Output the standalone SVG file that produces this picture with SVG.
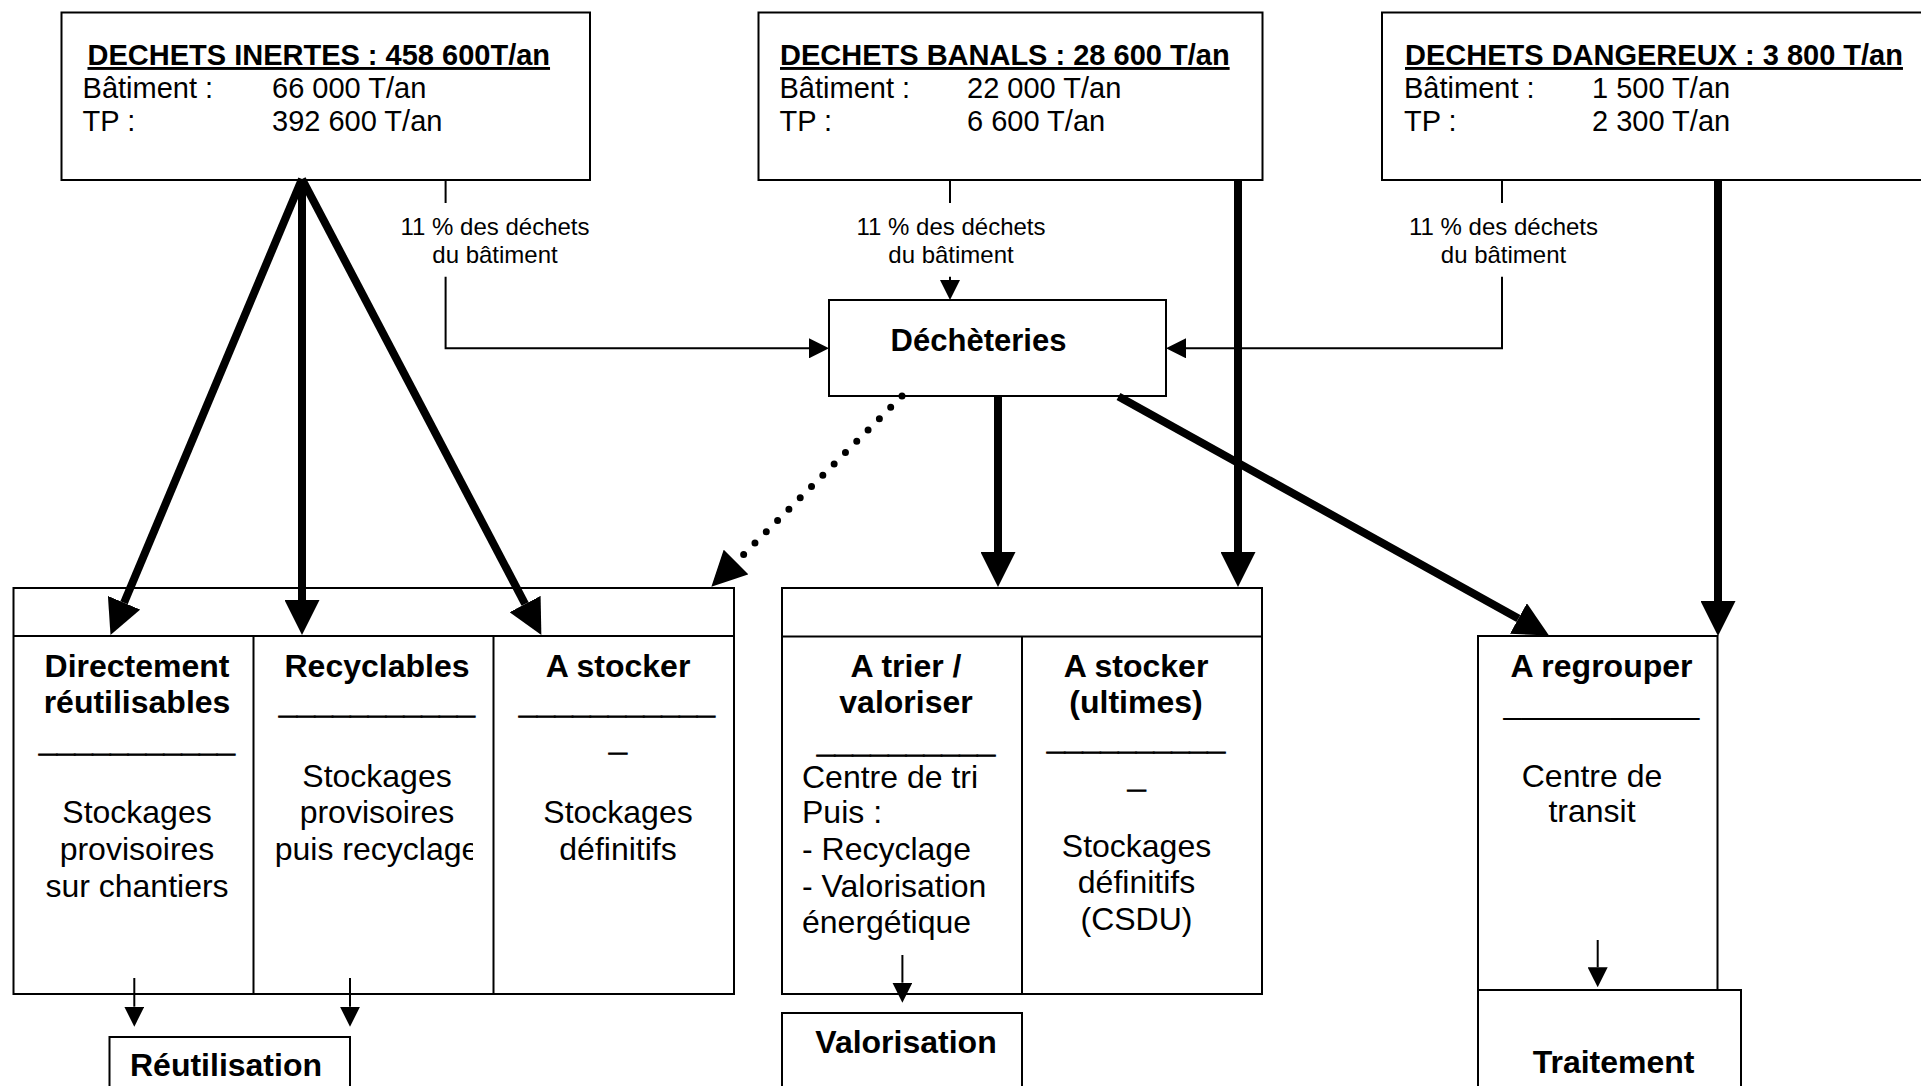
<svg xmlns="http://www.w3.org/2000/svg" width="1921" height="1086" viewBox="0 0 1921 1086">
<style>
text{font-family:"Liberation Sans",Arial,sans-serif;fill:#000}
.box{fill:#fff;stroke:#000;stroke-width:2}
.div{stroke:#000;stroke-width:2;fill:none}
.t{font-size:29px;font-weight:bold;text-decoration:underline}
.b{font-size:29px}
.lbl{font-size:24px;text-anchor:middle}
.h{font-size:32px;font-weight:bold;text-anchor:middle}
.u{stroke:#000;stroke-width:1.2}
.r{font-size:32px;text-anchor:middle}
.l{font-size:32px}
.thick{stroke:#000;stroke-width:8;fill:none;marker-end:url(#big)}
.thin{stroke:#000;stroke-width:2;fill:none;marker-end:url(#small)}
.dot{stroke:#000;stroke-width:7;stroke-linecap:round;stroke-dasharray:0 16;fill:none;marker-end:url(#big)}
</style>
<defs>
<marker id="big" markerUnits="userSpaceOnUse" markerWidth="35" markerHeight="35" viewBox="0 0 35 35" refX="0" refY="17.5" orient="auto"><path d="M0,0 L35,17.5 L0,35 z" fill="#000"/></marker>
<marker id="small" markerUnits="userSpaceOnUse" markerWidth="20" markerHeight="20" viewBox="0 0 20 20" refX="0" refY="10" orient="auto"><path d="M0,0 L20,10 L0,20 z" fill="#000"/></marker>
<clipPath id="c2"><rect x="254" y="636" width="219" height="356"/></clipPath>
</defs>

<g id="inertes">
<rect class="box" x="61.5" y="12.5" width="528.5" height="167.5"/>
<text class="t" x="87.5" y="65">DECHETS INERTES : 458 600T/an</text>
<text class="b" x="82.6" y="98.3">Bâtiment :</text>
<text class="b" x="272" y="98.3">66 000 T/an</text>
<text class="b" x="82.6" y="131">TP :</text>
<text class="b" x="272" y="131">392 600 T/an</text>
</g>

<g id="banals">
<rect class="box" x="758.5" y="12.5" width="504" height="167.5"/>
<text class="t" x="780" y="65">DECHETS BANALS : 28 600 T/an</text>
<text class="b" x="779.5" y="98.3">Bâtiment :</text>
<text class="b" x="967" y="98.3">22 000 T/an</text>
<text class="b" x="779.5" y="131">TP :</text>
<text class="b" x="967" y="131">6 600 T/an</text>
</g>

<g id="dangereux">
<rect class="box" x="1382" y="12.5" width="545" height="167.5"/>
<text class="t" x="1405" y="65">DECHETS DANGEREUX : 3 800 T/an</text>
<text class="b" x="1404" y="98.3">Bâtiment :</text>
<text class="b" x="1592" y="98.3">1 500 T/an</text>
<text class="b" x="1404" y="131">TP :</text>
<text class="b" x="1592" y="131">2 300 T/an</text>
</g>

<g id="decheteries">
<rect class="box" x="829" y="300" width="337" height="96"/>
<text x="978.5" y="351" style="font-size:31px;font-weight:bold;text-anchor:middle">Déchèteries</text>
</g>

<g id="inertes-dest">
<rect class="box" x="13.5" y="588" width="720.5" height="406"/>
<path class="div" d="M13.5,636 H734 M253.5,636 V994 M493.5,636 V994"/>
<g id="directement">
<text class="h" x="137" y="676.7">Directement</text>
<text class="h" x="137" y="713.3">réutilisables</text>
<text class="h u" x="137" y="751">___________</text>
<text class="r" x="137" y="823.3">Stockages</text>
<text class="r" x="137" y="860">provisoires</text>
<text class="r" x="137" y="896.7">sur chantiers</text>
</g>
<g id="recyclables">
<text class="h" x="377" y="676.7">Recyclables</text>
<text class="h u" x="377" y="713">___________</text>
<text class="r" x="377" y="786.7">Stockages</text>
<text class="r" x="377" y="823.3">provisoires</text>
<text class="r" x="377" y="860" clip-path="url(#c2)">puis recyclage</text>
</g>
<g id="astocker">
<text class="h" x="618" y="676.7">A stocker</text>
<text class="h u" x="617" y="713">___________</text>
<text class="h u" x="618" y="750">_</text>
<text class="r" x="618" y="823.3">Stockages</text>
<text class="r" x="618" y="860">définitifs</text>
</g>
</g>

<g id="banals-dest">
<rect class="box" x="782" y="588" width="480" height="406"/>
<path class="div" d="M782,636.5 H1262 M1022,636.5 V994"/>
<g id="atrier">
<text class="h" x="906" y="676.7">A trier /</text>
<text class="h" x="906" y="713.3">valoriser</text>
<text class="h u" x="906" y="752">__________</text>
<text class="l" x="802" y="788.3">Centre de tri</text>
<text class="l" x="802" y="823.3">Puis :</text>
<text class="l" x="802" y="860">- Recyclage</text>
<text class="l" x="802" y="896.7">- Valorisation</text>
<text class="l" x="802" y="933.3">énergétique</text>
</g>
<g id="astocker-ultimes">
<text class="h" x="1136" y="676.7">A stocker</text>
<text class="h" x="1136" y="713.3">(ultimes)</text>
<text class="h u" x="1136" y="749">__________</text>
<text class="h u" x="1136.6" y="787">_</text>
<text class="r" x="1136.5" y="856.7">Stockages</text>
<text class="r" x="1136.5" y="893.3">définitifs</text>
<text class="r" x="1136.5" y="930">(CSDU)</text>
</g>
</g>

<g id="aregrouper">
<rect class="box" x="1478" y="636" width="239.5" height="354"/>
<text class="h" x="1601.5" y="676.7">A regrouper</text>
<text class="r" x="1601.5" y="714">___________</text>
<text class="r" x="1592" y="786.7">Centre de</text>
<text class="r" x="1592" y="822">transit</text>
</g>

<g id="traitement">
<rect class="box" x="1478" y="990" width="263" height="110"/>
<text class="h" x="1613.6" y="1073.3">Traitement</text>
</g>

<g id="reutilisation">
<rect class="box" x="109.5" y="1037" width="240.5" height="63"/>
<text class="h" x="226" y="1076">Réutilisation</text>
</g>

<g id="valorisation">
<rect class="box" x="782" y="1013" width="240" height="87"/>
<text class="h" x="906" y="1052.7">Valorisation</text>
</g>

<g id="connectors">
<path class="thick" d="M302,179 L124.05,602.7"/>
<path class="thick" d="M302,179 L302,600"/>
<path class="thick" d="M302,179 L525.1,604"/>
<path class="thick" d="M998,396 L998,552"/>
<path class="thick" d="M1238,180 L1238,552"/>
<path class="thick" d="M1718,180 L1718,601"/>
<path class="thick" d="M1118.5,396.5 L1518.4,618.5"/>
<path class="dot" d="M902,396 L736.1,562"/>
<path class="thin" d="M445.6,180 V203 M445.6,276.7 V348.3 H809"/>
<path class="thin" d="M950,180 V203 M950,276.7 V280"/>
<path class="thin" d="M1502,180 V203 M1502,276.7 V348.3 H1186"/>
<path class="thin" d="M134.3,978 V1006.7"/>
<path class="thin" d="M350,978 V1006.7"/>
<path class="thin" d="M902.4,955 V982.7"/>
<path class="thin" d="M1597.7,940 V967.3"/>
<text class="lbl" x="495" y="235">11 % des déchets</text>
<text class="lbl" x="495" y="263.3">du bâtiment</text>
<text class="lbl" x="951" y="235">11 % des déchets</text>
<text class="lbl" x="951" y="263.3">du bâtiment</text>
<text class="lbl" x="1503.5" y="235">11 % des déchets</text>
<text class="lbl" x="1503.5" y="263.3">du bâtiment</text>
</g>
</svg>
